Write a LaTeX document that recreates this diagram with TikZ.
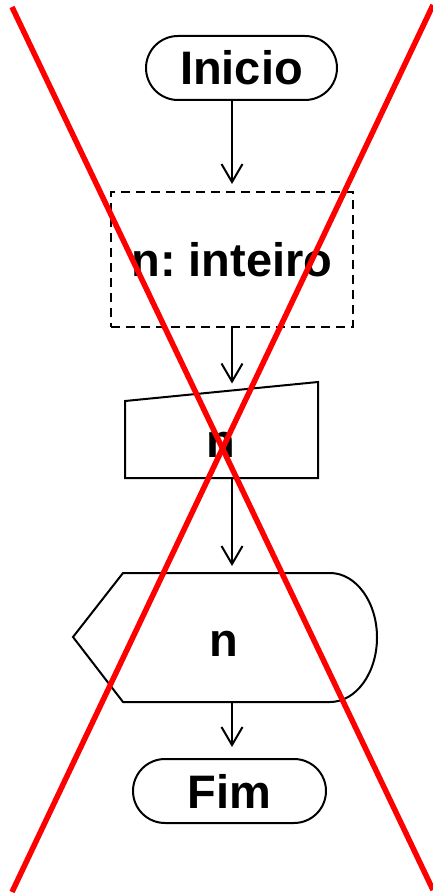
\documentclass[tikz,border=0pt]{standalone}
\usepackage{fontspec}
\setmainfont{Liberation Sans}
\usetikzlibrary{arrows.meta}
\begin{document}
\begin{tikzpicture}[x=1pt,y=-1pt,
  every node/.style={font=\fontsize{47}{50}\selectfont\bfseries\frenchspacing},
  shp/.style={draw=black,line width=2pt,line join=miter},
  term/.style={shp,rounded corners=32pt,inner sep=0pt,minimum height=64pt},
  arr/.style={draw=black,line width=2pt,-{Straight Barb[length=18pt,width=21pt,line width=2pt]},shorten >=7pt},
  cross/.style={draw=red,line width=5.5pt}]
\useasboundingbox (0,0) rectangle (433,893);
% terminal start
\node[term,minimum width=191pt] (start) at (241.5,68) {Inicio};
% declaration
\node[shp,dash pattern=on 9pt off 6pt,inner sep=0pt,minimum width=242pt,minimum height=135pt] (decl) at (232,259.5) {n: inteiro};
% manual input
\draw[shp] (125,401) -- (318,382) -- (318,478) -- (125,478) -- cycle;
\coordinate (rdtop) at (232,390.5);
\coordinate (rdbot) at (232,478);
\node[anchor=base] (read) at (221,457) {n};
% display
\draw[shp] (73,637) -- (123,573) -- (330,573)
  arc[start angle=90,end angle=-90,x radius=47pt,y radius=64.5pt]
  -- (123,702) -- cycle;
\coordinate (dptop) at (232,573);
\coordinate (dpbot) at (232,702);
\node[anchor=base] (show) at (224,656) {n};
% terminal end
\node[term,minimum width=193pt] (end) at (229.5,791) {Fim};
% connectors
\draw[arr] (decl.north |- start.south) -- (decl.north);
\draw[arr] (decl.south) -- (rdtop);
\draw[arr] (rdbot) -- (dptop);
\draw[arr,shorten >=11pt] (dpbot) -- (dpbot |- end.north);
% cross
\draw[cross] (12,7) -- (433,890);
\draw[cross] (433,5) -- (12,892);
\end{tikzpicture}
\end{document}
